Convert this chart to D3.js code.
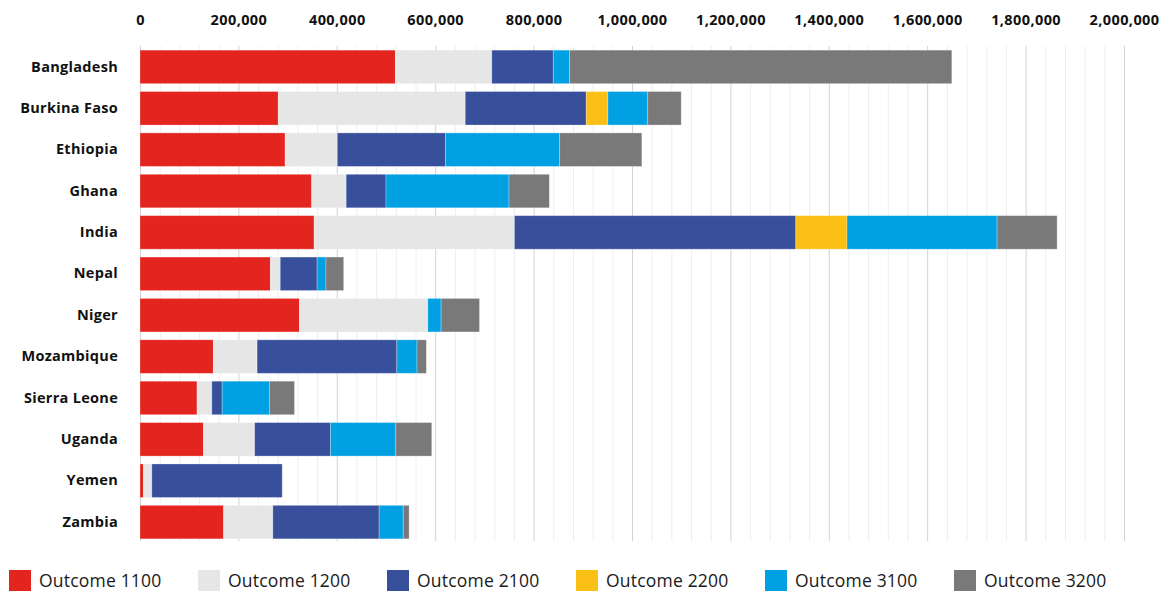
<!DOCTYPE html>
<html><head><meta charset="utf-8">
<script src="https://cdn.jsdelivr.net/npm/d3@7"></script>
<style>body{margin:0;background:#fff;} svg{display:block;}</style>
</head><body>
<svg id="chart" width="1171" height="592"></svg>
<script>
const countries = ["Bangladesh","Burkina Faso","Ethiopia","Ghana","India","Nepal","Niger","Mozambique","Sierra Leone","Uganda","Yemen","Zambia"];
const seriesNames = ["Outcome 1100","Outcome 1200","Outcome 2100","Outcome 2200","Outcome 3100","Outcome 3200"];
const outcome1100 = [519000,281000,295000,349000,354000,265000,324000,149000,116000,129000,7000,170000];
const outcome1200 = [196000,380000,106000,70000,407000,20000,261000,89000,30000,104000,17000,100000];
const outcome2100 = [125000,246000,220000,81000,572000,75000,0,284000,21000,154000,265000,216000];
const outcome2200 = [0,44000,0,0,104000,0,0,0,0,0,0,0];
const outcome3100 = [33000,81000,232000,250000,305000,18000,27000,41000,96000,133000,0,49000];
const outcome3200 = [777000,68000,167000,82000,122000,36000,78000,19000,51000,73000,0,12000];
const tickValues = [0,200000,400000,600000,800000,1000000,1200000,1400000,1600000,1800000,2000000];
const colors = ["#e3241f","#e6e6e6","#38509c","#fbc016","#00a0e2","#797979"];

const seriesData = [outcome1100,outcome1200,outcome2100,outcome2200,outcome3100,outcome3200];
const rows = countries.map((c,i)=>{const r={country:c}; seriesNames.forEach((s,j)=>r[s]=seriesData[j][i]); return r;});
const stacked = d3.stack().keys(seriesNames)(rows);

const svg = d3.select("#chart");
const x = d3.scaleLinear().domain([0,2000000]).range([140,1124]);
const y = d3.scaleBand().domain(countries).range([46,543]).paddingInner(0.19).paddingOuter(0.1);
const font = "'Open Sans', sans-serif";

// grid
const minor = d3.range(0,2000001,40000);
svg.append("g").selectAll("line").data(minor).join("line")
  .attr("x1",d=>x(d)+0.5).attr("x2",d=>x(d)+0.5).attr("y1",46).attr("y2",541)
  .attr("stroke",d=>d%200000===0?"#d2d2d2":"#eeeeee").attr("stroke-width",1);

// top axis
const axis = svg.append("g").attr("transform","translate(0,28)")
  .call(d3.axisTop(x).tickValues(tickValues).tickSize(0).tickFormat(d3.format(",")));
axis.select(".domain").remove();
axis.selectAll("text").attr("font-family",font).attr("font-weight","bold").attr("font-size",14.5)
  .attr("letter-spacing",0.4).attr("fill","#111").attr("dy","0");

// bars
svg.append("g").selectAll("g").data(stacked).join("g")
  .attr("fill",(d,i)=>colors[i])
  .selectAll("rect").data(d=>d).join("rect")
  .attr("x",d=>x(d[0])).attr("width",d=>Math.max(0,x(d[1])-x(d[0])))
  .attr("y",d=>y(d.data.country)).attr("height",y.bandwidth())
  .attr("stroke","rgba(255,255,255,0.35)").attr("stroke-width",d=>d[1]>d[0]?0.8:0);

// country labels
const yAxis = svg.append("g").attr("transform","translate(118,0)")
  .call(d3.axisLeft(y).tickSize(0).tickPadding(0));
yAxis.select(".domain").remove();
yAxis.selectAll("text").attr("font-family",font).attr("font-weight","bold").attr("font-size",14.5)
  .attr("letter-spacing",0.3).attr("fill","#111");

// legend
const lg = svg.append("g").selectAll("g").data(seriesNames).join("g")
  .attr("transform",(d,i)=>`translate(${9+i*189},570)`);
lg.append("rect").attr("width",22).attr("height",21).attr("fill",(d,i)=>colors[i]);
lg.append("text").attr("x",30).attr("y",11).attr("dy","0.35em").text(d=>d)
  .attr("font-family",font).attr("font-size",17.5).attr("letter-spacing",0.2).attr("fill","#1a1a1a");
</script>
</body></html>
